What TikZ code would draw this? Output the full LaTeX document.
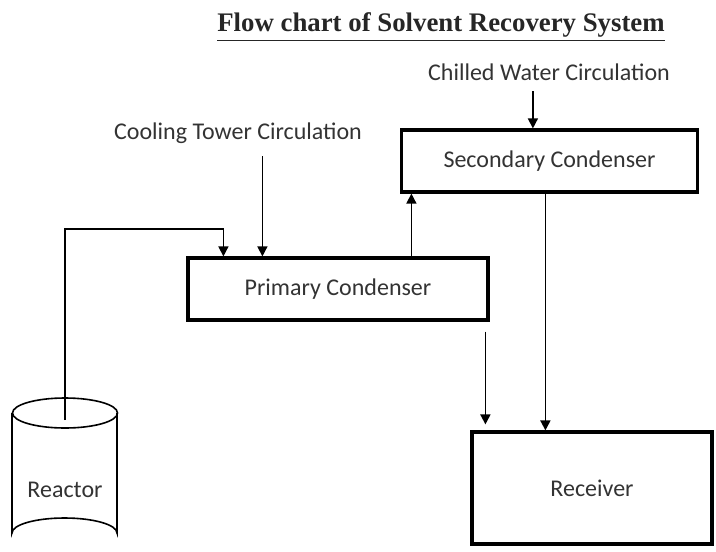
\documentclass[tikz,border=0pt]{standalone}
\usepackage{fontspec}
\setmainfont{Carlito}
\newfontfamily\titlefont{Liberation Serif}
\usepackage{tikz}
\usetikzlibrary{positioning,arrows.meta,calc}
\usepackage{xcolor}

\begin{document}
\begin{tikzpicture}[
    x=0.5pt, y=-0.5pt,
    >={Triangle[length=5pt,width=5pt]},
    unit/.style={draw, line width=1.6pt, fill=white, font=\fontsize{12}{14}\selectfont, text=black!80},
    label/.style={font=\fontsize{12}{14}\selectfont, text=black!80},
    flow/.style={->, line width=0.7pt}
]
\useasboundingbox (0,0) rectangle (716,551);

% title
\node[font=\titlefont\bfseries\fontsize{13.4}{15}\selectfont, text=black!85] (title) at (441,27)
    {\underline{Flow chart of Solvent Recovery System}};

% units
\node[unit, minimum width=148pt, minimum height=31pt] (sec) at (549.5,161) {Secondary Condenser};
\node[unit, minimum width=150pt, minimum height=31pt] (prim) at (338,289) {Primary Condenser};
\node[unit, minimum width=120pt, minimum height=56pt] (recv) at (592,488) {Receiver};

% reactor vessel
\draw[line width=0.8pt, fill=white] (12,413) -- (12,533) arc[start angle=180, end angle=360, x radius=52.5, y radius=15]
    -- (117,413);
\draw[line width=0.8pt] (65,413) ellipse[x radius=52.5, y radius=15];
\node[label] (reactor) at (65,490) {Reactor};
\coordinate (reactortop) at (65,420);

% circulation labels
\node[label] (chill) at (549,72) {Chilled Water Circulation};
\node[label] (cool) at (238,133) {Cooling Tower Circulation};

% connectors
\coordinate (primin) at ($(prim.north west)+(37,0)$);
\coordinate (coolin) at ($(prim.north west)+(76,0)$);
\coordinate (primout) at ($(prim.north west)+(225,0)$);
\coordinate (chillin) at ($(sec.north west)+(133,0)$);
\coordinate (recvin) at ($(recv.north west)+(15,0)$);
\coordinate (recvin2) at ($(recv.north west)+(75,0)$);

\draw[flow] (reactortop) -- (65,229) -| (primin);
\draw[flow] (cool.south -| coolin) ++(0,6) -- (coolin);
\draw[flow] (chill.south -| chillin) ++(0,4) -- (chillin);
\draw[flow] (primout) -- (primout |- sec.south);
\draw[flow, line width=0.9pt, shorten >=3pt] (recvin |- prim.south) ++(0,10) -- (recvin);
\draw[flow, line width=0.9pt] (recvin2 |- sec.south) -- (recvin2);

\end{tikzpicture}
\end{document}
